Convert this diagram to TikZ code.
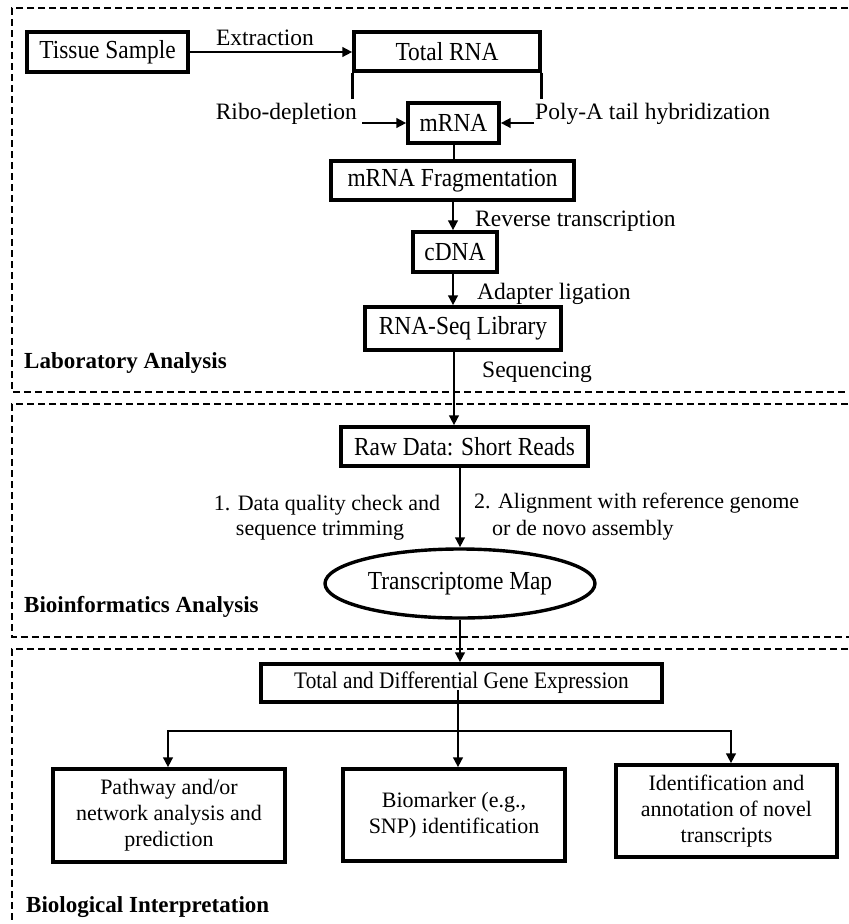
\documentclass[tikz,border=0pt]{standalone}
\usepackage{fontspec}
\setmainfont{Liberation Serif}
\newfontfamily\tallfont{Liberation Serif}[FakeStretch=0.9]
\usetikzlibrary{arrows.meta,shapes.geometric}
\begin{document}
\begin{tikzpicture}[x=1pt,y=-1pt,
  box/.style={draw, line width=3.4pt, inner sep=0pt, align=center, font=\tallfont\fontsize{26pt}{30pt}\selectfont},
  smallbox/.style={box, font=\fontsize{22pt}{26pt}\selectfont},
  lbl/.style={inner sep=0pt, font=\fontsize{23.5pt}{28pt}\selectfont},
  lbltwo/.style={inner sep=0pt, font=\fontsize{22pt}{26pt}\selectfont},
  ttl/.style={inner sep=0pt, font=\fontsize{23pt}{28pt}\selectfont\bfseries},
  arr/.style={line width=2.8pt, -{Triangle[length=10pt,width=9.5pt]}},
  ln/.style={line width=2.8pt},
  boxln/.style={line width=3.4pt},
  sec/.style={dash pattern=on 7pt off 4pt, line width=2.3pt}]
\useasboundingbox (0,0) rectangle (849,924);
\clip (0,0) rectangle (849,924);
\fill[white] (0,0) rectangle (849,924);

% sections
\draw[sec] (870,8) -- (12,8) -- (12,392) -- (870,392);
\draw[sec] (870,404) -- (12,404) -- (12,637) -- (870,637);
\draw[sec] (870,649) -- (12,649) -- (12,950);
\node[ttl, anchor=base west] (t1) at (24,368) {Laboratory Analysis};
\node[ttl, anchor=base west] (t2) at (24,612) {Bioinformatics Analysis};
\node[ttl, anchor=base west] (t3) at (26,912) {Biological Interpretation};

% nodes
\node[box, minimum width=161pt, minimum height=40pt] (ts) at (107.5,52) {Tissue Sample};
\node[box, minimum width=186pt, minimum height=39pt] (trna) at (447,51.5) {Total RNA};
\node[box, minimum width=91pt, minimum height=40pt] (mrna) at (453.5,123) {mRNA};
\node[box, minimum width=243pt, minimum height=39pt] (frag) at (452.5,180.5) {mRNA Fragmentation};
\node[box, minimum width=84pt, minimum height=40pt] (cdna) at (455,252) {cDNA};
\node[box, minimum width=196pt, minimum height=43pt] (lib) at (463,328.5) {RNA-Seq Library};
\node[box, minimum width=247pt, minimum height=39pt] (raw) at (464.5,446.5) {Raw Data: Short Reads};
\node[draw, ellipse, line width=3.4pt, inner sep=0pt, minimum width=270pt, minimum height=69pt,
      font=\tallfont\fontsize{26pt}{30pt}\selectfont] (map) at (460,583.5) {Transcriptome Map};
\node[box, minimum width=401pt, minimum height=38pt, font=\tallfont\fontsize{23.7pt}{28pt}\selectfont] (tot) at (461.5,683) {Total and Differential Gene Expression};
\node[smallbox, minimum width=232pt, minimum height=93pt] (pw) at (169,815.5) {Pathway and/or\\network analysis and\\prediction};
\node[smallbox, minimum width=222pt, minimum height=92pt] (bm) at (454,815) {Biomarker (e.g.,\\SNP) identification};
\node[smallbox, minimum width=221pt, minimum height=92pt] (id) at (726.5,811) {Identification and\\annotation of novel\\transcripts};

% labels
\node[lbl, anchor=base] (lext) at (265,45) {Extraction};
\node[lbl, anchor=base east] (lribo) at (357,119) {Ribo-depletion};
\node[lbl, anchor=base west] (lpoly) at (535,119) {Poly-A tail hybridization};
\node[lbl, anchor=base west] (lrev) at (475,226) {Reverse transcription};
\node[lbl, anchor=base west] (ladp) at (477,299) {Adapter ligation};
\node[lbl, anchor=base west] (lseq) at (482,377) {Sequencing};
\node[lbltwo, anchor=base] (lqa) at (327,510) {1. Data quality check and};
\node[lbltwo, anchor=base] (lqb) at (320,535) {sequence trimming};
\node[lbltwo, anchor=base west] (laa) at (474,508) {2. Alignment with reference genome};
\node[lbltwo, anchor=base west] (lab) at (492,535) {or de novo assembly};

% connectors
\draw[arr] (ts.east) -- (ts.east -| trna.west);
\draw[boxln] (trna.south west) -- ++(0,26);
\draw[boxln] (trna.south east) -- ++(0,26);
\coordinate (rs) at (362,123);
\coordinate (ps) at (534,123);
\draw[arr] (rs) -- (mrna.west);
\draw[arr] (ps) -- (mrna.east);
\coordinate (xa) at (454,0);
\coordinate (xb) at (453,0);
\draw[ln] (mrna.south -| xa) -- (frag.north -| xa);
\draw[arr] (frag.south -| xb) -- (cdna.north -| xb);
\draw[arr] (cdna.south -| xb) -- (lib.north -| xb);
\draw[arr] (lib.south -| xa) -- (raw.north -| xa);
\coordinate (xc) at (460,0);
\draw[arr] (raw.south -| xc) -- (map.north -| xc);
\draw[arr] (map.south -| xc) -- (tot.north -| xc);
\coordinate (bt) at (458,690);
\coordinate (bl) at (168,731);
\coordinate (br) at (731,731);
\draw[arr] (bt) -- (bt |- bm.north);
\draw[arr] (bt |- bl) -- (bl) -- (bl |- pw.north);
\draw[arr] (bt |- br) -- (br) -- (br |- id.north);
\end{tikzpicture}
\end{document}
